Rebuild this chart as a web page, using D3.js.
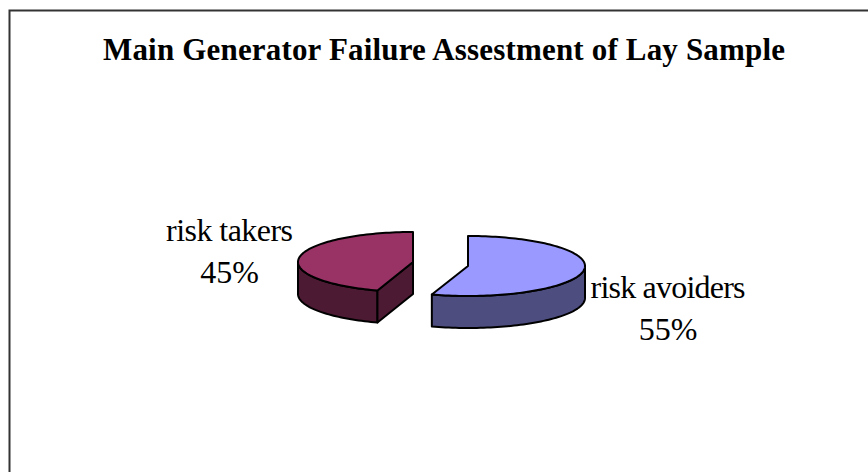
<!DOCTYPE html>
<html>
<head>
<meta charset="utf-8">
<script src="https://cdn.jsdelivr.net/npm/d3@7"></script>
<style>
  html, body { margin: 0; padding: 0; background: #fff; }
  svg { display: block; }
  text { font-family: "Liberation Serif", serif; fill: #000; }
</style>
</head>
<body>
<svg id="chart" width="868" height="472"></svg>
<script>
const chartTitle = 'Main Generator Failure Assestment of Lay Sample';
const categories = ['risk avoiders', 'risk takers'];
const shares = [55, 45];
const topColors = ['#9999ff', '#993366'];
const sideColors = ['#4d4d80', '#4d1a33'];

const width = 868;
const height = 472;
const svg = d3.select('#chart');

// chart frame, only left and top show in the crop
svg.append('path')
  .attr('d', `M9.5,${height}V10.5H${width}`)
  .attr('fill', 'none')
  .attr('stroke', '#333')
  .attr('stroke-width', 2);

svg.append('text')
  .attr('x', 444)
  .attr('y', 60)
  .attr('text-anchor', 'middle')
  .attr('font-size', 31)
  .attr('font-weight', 'bold')
  .attr('textLength', 682)
  .attr('lengthAdjust', 'spacing')
  .text(chartTitle);

const rx = d3.scaleOrdinal().domain(categories).range([117, 115]);
const ry = d3.scaleOrdinal().domain(categories).range([30, 30]);
const centerX = d3.scaleOrdinal().domain(categories).range([468, 413]);
const centerY = d3.scaleOrdinal().domain(categories).range([266, 262]);
const depth = 32;

const slices = d3.pie().sort(null)(shares).map((d, i) => ({
  name: categories[i],
  share: shares[i],
  top: topColors[i],
  side: sideColors[i],
  start: d.startAngle,
  end: d.endAngle
}));

// point on the rim, angle clockwise from 12 o'clock
function rim(d, a, dy = 0) {
  return [
    centerX(d.name) + rx(d.name) * Math.sin(a),
    centerY(d.name) - ry(d.name) * Math.cos(a) + dy
  ];
}

function rimPoints(d, a0, a1, dy = 0) {
  const n = Math.max(2, Math.ceil(Math.abs(a1 - a0) / 0.03));
  return d3.range(n + 1).map(i => rim(d, a0 + (a1 - a0) * i / n, dy));
}

const line = d3.line();

const slice = svg.selectAll('g.slice')
  .data(slices)
  .enter().append('g')
    .attr('class', 'slice')
    .attr('stroke', '#000')
    .attr('stroke-width', 2)
    .attr('stroke-linejoin', 'round');

// outer wall, only the part that faces the viewer
slice.append('path')
  .attr('fill', d => d.side)
  .attr('d', d => {
    const a0 = Math.max(d.start, Math.PI / 2);
    const a1 = Math.min(d.end, Math.PI * 1.5);
    return line(rimPoints(d, a0, a1).concat(rimPoints(d, a1, a0, depth))) + 'Z';
  });

// cut face of the slice, hidden for the one that starts on the right
slice.filter(d => d.start > Math.PI).append('path')
  .attr('fill', d => d.side)
  .attr('d', d => {
    const c = [centerX(d.name), centerY(d.name)];
    const p = rim(d, d.start);
    return line([c, p, [p[0], p[1] + depth], [c[0], c[1] + depth]]) + 'Z';
  });

slice.append('path')
  .attr('fill', d => d.top)
  .attr('d', d => line([[centerX(d.name), centerY(d.name)]].concat(rimPoints(d, d.start, d.end))) + 'Z');

const labelX = d3.scaleOrdinal().domain(categories).range([668, 229.5]);
const labelY = d3.scaleOrdinal().domain(categories).range([298, 241]);

const label = svg.selectAll('text.label')
  .data(slices)
  .enter().append('text')
    .attr('class', 'label')
    .attr('text-anchor', 'middle')
    .attr('font-size', 32)
    .attr('transform', d => `translate(${labelX(d.name)},${labelY(d.name)})`);
label.append('tspan')
  .attr('x', 0)
  .attr('textLength', d => d.name == 'risk takers' ? 127 : 155)
  .text(d => d.name);
label.append('tspan')
  .attr('x', 0)
  .attr('dy', 42)
  .text(d => d.share + '%');
</script>
</body>
</html>
